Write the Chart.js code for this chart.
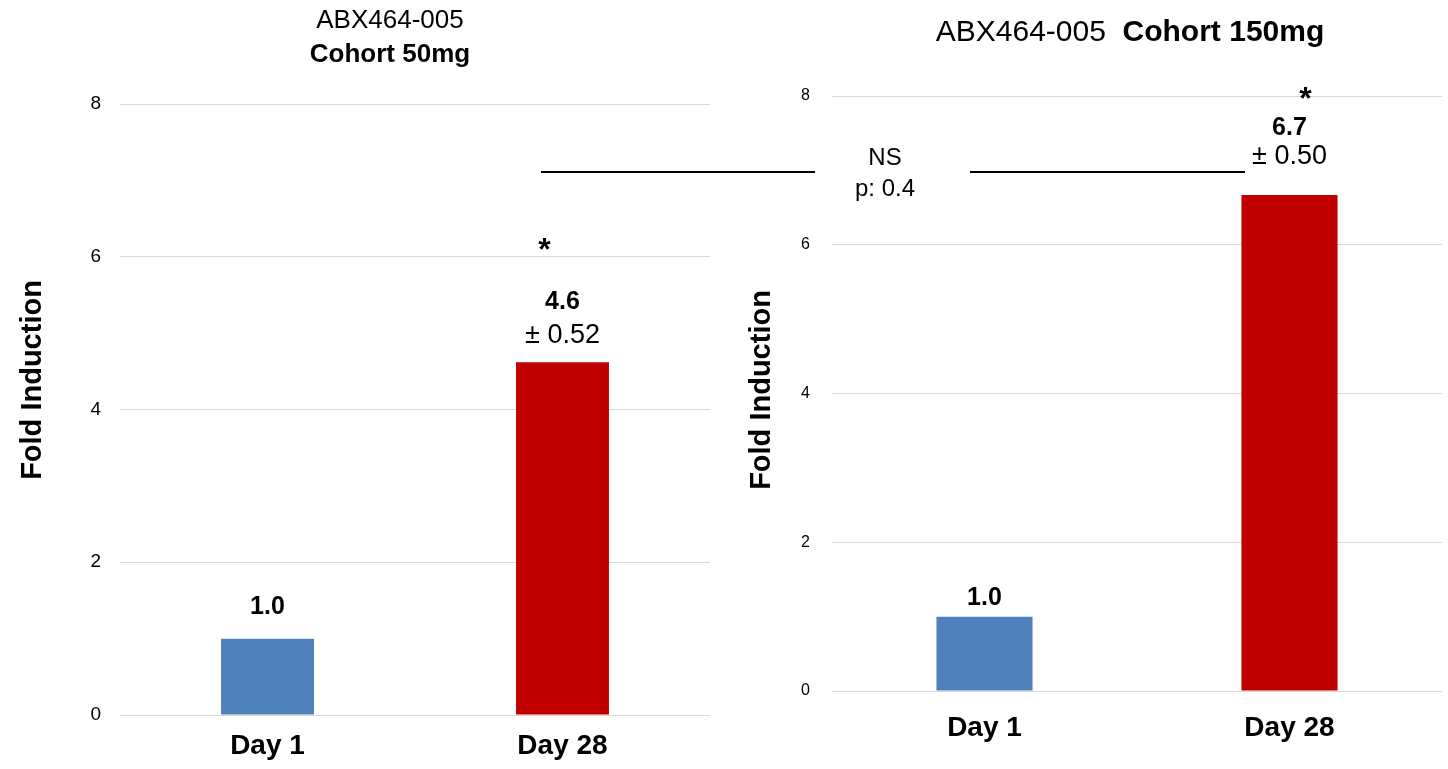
<!DOCTYPE html>
<html>
<head>
<meta charset="utf-8">
<script src="https://cdn.jsdelivr.net/npm/chart.js@4.4.0/dist/chart.umd.min.js"></script>
<style>
  body { margin: 0; background: #fff; width: 1448px; height: 769px; position: relative; overflow: hidden;
         font-family: 'Liberation Sans', Arial, sans-serif; }
  #wrap50 { position: absolute; left: 0; top: 0; width: 720px; height: 769px; }
  #wrap150 { position: absolute; left: 720px; top: 0; width: 728px; height: 769px; }
  .bracket { position: absolute; height: 0; border-top: 2px solid #000; top: 171px; }
  .note { position: absolute; left: 835px; top: 141px; width: 100px; text-align: center;
          font-size: 24px; line-height: 31px; color: #000; }
</style>
</head>
<body>
<div id="wrap50"><canvas id="chart50" width="720" height="769"></canvas></div>
<div id="wrap150"><canvas id="chart150" width="728" height="769"></canvas></div>
<!-- NS 비교 표시 -->
<div class="bracket" style="left:541px;width:274px"></div>
<div class="bracket" style="left:970px;width:275px"></div>
<div class="note">NS<br>p: 0.4</div>

<script>
const FONT = "'Liberation Sans', Arial, sans-serif";

// 데이터
const categories = ['Day 1', 'Day 28'];
const cohort50Values = [1.0, 4.62];
const cohort50Errors = [null, 0.52];
const cohort50Stars = ['', '*'];
const cohort150Values = [1.0, 6.67];
const cohort150Errors = [null, 0.50];
const cohort150Stars = ['', '*'];
const yMin = 0;
const yMax = 8;
const yStep = 2;

const barColors = ['#4F81BD', '#C00000'];
const gridColor = '#d9d9d9';

// 막대 위 값/오차/별표 + 제목 그리기
function makeNotes(cfg) {
  return {
    id: 'notes',
    afterDatasetsDraw(chart) {
      const ctx = chart.ctx;
      const meta = chart.getDatasetMeta(0);
      ctx.save();
      ctx.fillStyle = '#000';
      ctx.textAlign = 'center';
      ctx.textBaseline = 'middle';
      meta.data.forEach((bar, i) => {
        const x = bar.x;
        const top = bar.y;
        const val = cfg.values[i].toFixed(1);
        const err = cfg.errors[i];
        ctx.font = 'bold ' + cfg.valueSize + 'px ' + FONT;
        if (err == null) {
          ctx.fillText(val, x, top - cfg.singleGap);
        } else {
          ctx.fillText(val, x, top - cfg.valueGap);
          ctx.font = cfg.errSize + 'px ' + FONT;
          ctx.fillText('± ' + err.toFixed(2), x, top - cfg.errGap);
        }
        if (cfg.stars[i]) {
          ctx.font = 'bold 32px ' + FONT;
          ctx.fillText(cfg.stars[i], x + cfg.starDx, top - cfg.starGap + 8);
        }
      });

      // 차트 제목
      cfg.drawTitle(ctx);

      // y축 제목
      ctx.save();
      ctx.translate(cfg.yTitleX, cfg.yTitleY);
      ctx.rotate(-Math.PI / 2);
      ctx.font = 'bold 29px ' + FONT;
      ctx.fillText('Fold Induction', 0, 0);
      ctx.restore();
      ctx.restore();
    }
  };
}

function buildChart(canvasId, values, axisW, axisH, padRight, padTop, tickSize, tickPad, xPad, notes) {
  const ctx = document.getElementById(canvasId).getContext('2d');
  return new Chart(ctx, {
    type: 'bar',
    data: {
      labels: categories,
      datasets: [{
        data: values,
        backgroundColor: barColors,
        borderWidth: 0,
        categoryPercentage: 1.0,
        barPercentage: 0.315
      }]
    },
    options: {
      responsive: false,
      animation: false,
      layout: { padding: { left: 0, right: padRight, top: padTop, bottom: 0 } },
      plugins: {
        legend: { display: false },
        title: { display: false },
        tooltip: { enabled: false }
      },
      scales: {
        x: {
          grid: { display: false, drawTicks: false },
          border: { display: false },
          ticks: {
            color: '#000',
            padding: xPad,
            font: { family: FONT, size: 28, weight: 'bold' }
          },
          afterFit(scale) { scale.height = axisH; }
        },
        y: {
          min: yMin,
          max: yMax,
          grid: { color: gridColor, lineWidth: 1, drawTicks: false },
          border: { display: false },
          ticks: {
            stepSize: yStep,
            color: '#000',
            padding: tickPad,
            font: { family: FONT, size: tickSize }
          },
          afterFit(scale) { scale.width = axisW; }
        }
      }
    },
    plugins: [makeNotes(notes)]
  });
}

buildChart('chart50', cohort50Values, 120, 54, 10, 104, 19, 19, 14, {
  values: cohort50Values,
  errors: cohort50Errors,
  stars: cohort50Stars,
  valueSize: 25,
  errSize: 27,
  singleGap: 32,
  valueGap: 60,
  errGap: 27,
  starGap: 119,
  starDx: -18,
  yTitleX: 33,
  yTitleY: 380,
  drawTitle(ctx) {
    ctx.font = '26px ' + FONT;
    ctx.fillText('ABX464-005', 390, 21);
    ctx.font = 'bold 26px ' + FONT;
    ctx.fillText('Cohort 50mg', 390, 55);
  }
});

buildChart('chart150', cohort150Values, 112, 78, 6, 96, 16, 22, 20, {
  values: cohort150Values,
  errors: cohort150Errors,
  stars: cohort150Stars,
  valueSize: 25,
  errSize: 27,
  singleGap: 19,
  valueGap: 67,
  errGap: 38,
  starGap: 103,
  starDx: 16,
  yTitleX: 42,
  yTitleY: 390,
  drawTitle(ctx) {
    const a = 'ABX464-005  ';
    const b = 'Cohort 150mg';
    ctx.font = '30px ' + FONT;
    const wa = ctx.measureText(a).width;
    ctx.font = 'bold 30px ' + FONT;
    const wb = ctx.measureText(b).width;
    const x = 410 - (wa + wb) / 2;
    ctx.textAlign = 'left';
    ctx.font = '30px ' + FONT;
    ctx.fillText(a, x, 33);
    ctx.font = 'bold 30px ' + FONT;
    ctx.fillText(b, x + wa, 33);
    ctx.textAlign = 'center';
  }
});
</script>
</body>
</html>
